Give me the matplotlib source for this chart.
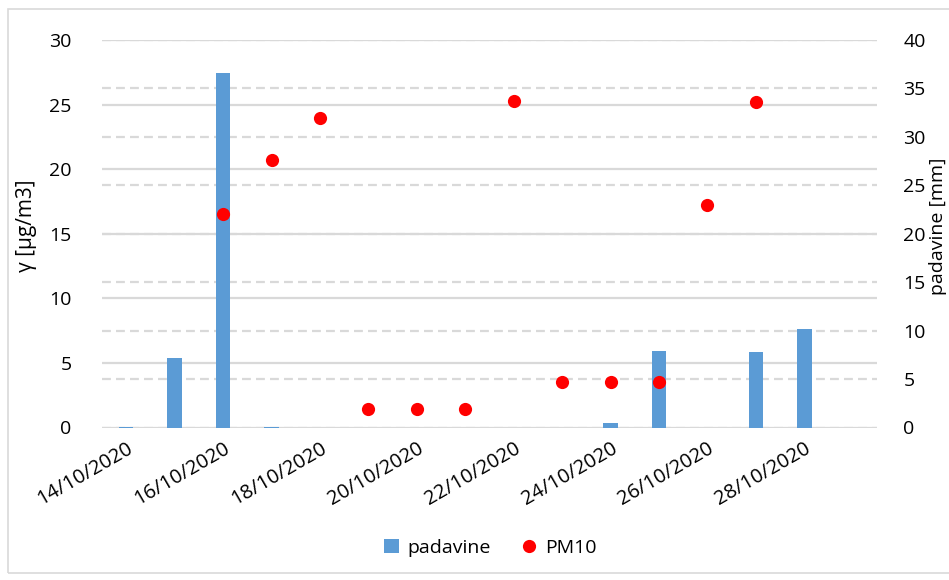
import matplotlib
matplotlib.use("Agg")
import matplotlib.pyplot as plt
import numpy as np
from matplotlib.lines import Line2D
from matplotlib.patches import Patch, Rectangle

plt.rcParams['font.family'] = ['Open Sans', 'DejaVu Sans']

dates = ["14/10/2020", "15/10/2020", "16/10/2020", "17/10/2020", "18/10/2020",
         "19/10/2020", "20/10/2020", "21/10/2020", "22/10/2020", "23/10/2020",
         "24/10/2020", "25/10/2020", "26/10/2020", "27/10/2020", "28/10/2020",
         "29/10/2020"]
padavine = [0.1, 7.2, 36.6, 0.1, 0, 0, 0, 0, 0, 0, 0.5, 7.9, 0, 7.8, 10.2, 0]
pm10 = [np.nan, np.nan, 16.5, 20.7, 24.0, 1.4, 1.4, 1.4, 25.3, 3.5, 3.5, 3.5,
        17.2, 25.2, np.nan, np.nan]
left_ticks = [0, 5, 10, 15, 20, 25, 30]
right_ticks = [0, 5, 10, 15, 20, 25, 30, 35, 40]

x = np.arange(len(dates))

fig = plt.figure(figsize=(9.49, 5.80), dpi=100)
W, H = 949, 580
ax = fig.add_axes([102 / W, 1 - 427.5 / H, (877 - 102) / W, (427.5 - 40) / H])
ax2 = ax.twinx()
ax3 = ax.twinx()

grid_col = '#d9d9d9'
# left axis: solid grid
ax.set_ylim(0, 30)
ax.set_yticks(left_ticks)
ax.set_xlim(-0.5, len(dates) - 0.5)
ax.yaxis.grid(True, color=grid_col, linewidth=1.6, linestyle='-')
ax.set_axisbelow(True)

# right axis: dashed grid + bars
ax2.set_ylim(0, 40)
ax2.set_yticks(right_ticks)
ax2.yaxis.grid(True, color=grid_col, linewidth=1.6, linestyle=(0, (4.0, 2.3)))
ax2.set_axisbelow(True)
ax2.bar(x, padavine, width=0.3, color='#5B9BD5', edgecolor='none', zorder=3)

# dots on top layer, same scale as left axis
ax3.set_ylim(0, 30)
ax3.set_yticks([])
ax3.plot(x, pm10, linestyle='none', marker='o', markersize=9.5,
         color='#FF0000', markeredgewidth=0)

for a in (ax, ax2, ax3):
    for s in a.spines.values():
        s.set_visible(False)
    a.tick_params(length=0)

ax.tick_params(axis='y', labelsize=14, pad=22, colors='#000000')
ax2.tick_params(axis='y', labelsize=14, pad=19)

ax.set_xticks(x[::2])
ax.set_xticklabels(dates[::2], rotation=30, ha='right', rotation_mode='anchor',
                   fontsize=14.5)
ax.tick_params(axis='x', pad=8)

ax.set_ylabel("γ [µg/m3]", fontsize=15)
ax.yaxis.set_label_coords((37 - 102) / 775, 0.52)
ax2.set_ylabel("padavine [mm]", fontsize=14)
ax2.yaxis.set_label_coords((929 - 102) / 775, 0.52)

handles = [Patch(facecolor='#5B9BD5', edgecolor='none'),
           Line2D([], [], linestyle='none', marker='o', markersize=9.5,
                  color='#FF0000', markeredgewidth=0)]
fig.legend(handles, ['padavine', 'PM10'], loc='center',
           bbox_to_anchor=(490 / W, 1 - 548 / H), ncol=2, frameon=False,
           fontsize=14, handlelength=0.8, handletextpad=0.4, columnspacing=1.6)

fig.patches.append(Rectangle((8 / W, 1 - 573 / H), (W + 10 - 8) / W, (573 - 9) / H,
                             transform=fig.transFigure, fill=False,
                             edgecolor='#d9d9d9', linewidth=1.2))

fig.savefig("out.png", dpi=100)
